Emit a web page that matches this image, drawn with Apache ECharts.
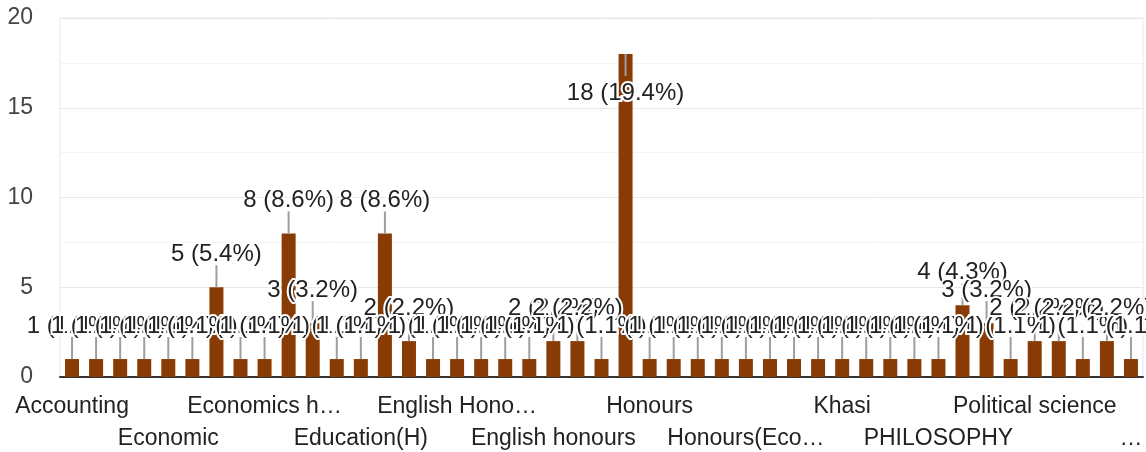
<!DOCTYPE html>
<html>
<head>
<meta charset="utf-8">
<script src="https://cdn.jsdelivr.net/npm/echarts@6/dist/echarts.min.js"></script>
<style>
  html, body { margin: 0; padding: 0; background: #fff; }
  #chart { width: 1146px; height: 452px; }
</style>
</head>
<body>
<div id="chart"></div>
<script>
// ---- Data ----
const categories = [
  'Accounting', 'Arts', 'B.A. Honours', 'Commerce',
  'Economic', 'Economic Honours', 'Economics', 'Economics (H)',
  'Economics honours', 'Education', 'Education Honours', 'Education honours',
  'Education(H)', 'English', 'English (H)', 'English Hons',
  'English Honours', 'English Literature', 'English hons', 'English hons.',
  'English honours', 'Geography', 'Hindi', 'History',
  'Honours', 'Honours (Economics)', 'Honours (Education)', 'Honours (English)',
  'Honours(Economics)', 'Honours(Education)', 'Honours(English)', 'Honours(History)',
  'Khasi', 'Khasi Honours', 'Mathematics', 'Music',
  'PHILOSOPHY', 'Philosophy', 'Political Science', 'Political Science Honours',
  'Political science', 'Political science honours', 'Psychology', 'Sociology',
  'Sociology Honours and Education Minor'
];
const counts = [
  1, 1, 1, 1,
  1, 1, 5, 1,
  1, 8, 3, 1,
  1, 8, 2, 1,
  1, 1, 1, 1,
  2, 2, 1, 18,
  1, 1, 1, 1,
  1, 1, 1, 1,
  1, 1, 1, 1,
  1, 4, 3, 1,
  2, 2, 1, 2,
  1
];
const yTicks = { min: 0, max: 20, interval: 5 };

// ---- Derived ----
const total = counts.reduce((a, b) => a + b, 0);
const points = counts.map((v, i) => [i, v]);
const FONT = '"Liberation Sans", Arial, sans-serif';
const LINE_LEN = 22;
const LABEL_OFF_UP = 33;
const LABEL_OFF_DOWN = 39;
const LAST = categories.length - 1;

const axisData = categories.map((name, i) =>
  i === LAST ? { value: name, textStyle: { width: 24 } } : name
);

function anchor(params, api) {
  const i = api.value(0), v = api.value(1);
  const top = api.coord([i, v]);
  const cs = params.coordSys;
  let dir = -1;
  if (top[1] - LABEL_OFF_UP - 13 < cs.y) dir = 1;
  return { x: top[0], y: top[1], dir: dir, v: v };
}

function labelStyle(margin, rowTest) {
  return {
    interval: function (index) { return rowTest(index); },
    hideOverlap: false,
    fontSize: 23,
    fontFamily: FONT,
    color: '#222222',
    margin: margin,
    width: 168,
    overflow: 'truncate',
    ellipsis: '…'
  };
}

const chart = echarts.init(document.getElementById('chart'), null, { renderer: 'canvas' });
chart.setOption({
  animation: false,
  backgroundColor: '#ffffff',
  grid: {
    left: 60, right: 3, top: 18, bottom: 75,
    containLabel: false,
    outerBoundsMode: 'none',
    show: true, borderColor: '#e8e8e8', borderWidth: 1
  },
  xAxis: [
    {
      type: 'category',
      position: 'bottom',
      data: axisData,
      axisLine: { show: true, lineStyle: { color: '#333333', width: 2 } },
      axisTick: { show: false },
      splitLine: { show: false },
      axisLabel: labelStyle(18, i => i % 8 === 0)
    },
    {
      type: 'category',
      position: 'bottom',
      data: axisData,
      axisLine: { show: false },
      axisTick: { show: false },
      splitLine: { show: false },
      axisLabel: labelStyle(50, i => i % 8 === 4)
    }
  ],
  yAxis: {
    type: 'value',
    min: yTicks.min, max: yTicks.max, interval: yTicks.interval,
    axisLine: { show: false },
    axisTick: { show: false },
    axisLabel: { fontSize: 23, fontFamily: FONT, color: '#444444', margin: 27, padding: [8, 0, 0, 0] },
    splitLine: { show: true, lineStyle: { color: '#e8e8e8', width: 1 } },
    minorTick: { show: false, splitNumber: 2 },
    minorSplitLine: { show: true, lineStyle: { color: '#f3f3f3', width: 1 } }
  },
  series: [
    {
      type: 'bar',
      xAxisIndex: 0,
      data: counts,
      barWidth: 14,
      itemStyle: { color: '#883b04' },
      z: 2
    },
    {
      type: 'custom',
      xAxisIndex: 0,
      data: points,
      encode: { x: 0, y: 1 },
      clip: false,
      z: 3,
      renderItem: function (params, api) {
        const a = anchor(params, api);
        return {
          type: 'line',
          shape: { x1: a.x, y1: a.y, x2: a.x, y2: a.y + a.dir * LINE_LEN },
          style: { stroke: '#9e9e9e', lineWidth: 2 }
        };
      }
    },
    {
      type: 'custom',
      xAxisIndex: 0,
      data: points,
      encode: { x: 0, y: 1 },
      clip: false,
      z: 4,
      renderItem: function (params, api) {
        const a = anchor(params, api);
        const pct = (a.v / total * 100).toFixed(1);
        const off = a.dir < 0 ? LABEL_OFF_UP : LABEL_OFF_DOWN;
        return {
          type: 'text',
          style: {
            text: a.v + ' (' + pct + '%)',
            x: a.x,
            y: a.y + a.dir * off,
            align: 'center',
            verticalAlign: 'middle',
            fontSize: 24,
            fontFamily: FONT,
            fill: '#222222',
            stroke: '#ffffff',
            lineWidth: 4
          }
        };
      }
    }
  ]
});
</script>
</body>
</html>
